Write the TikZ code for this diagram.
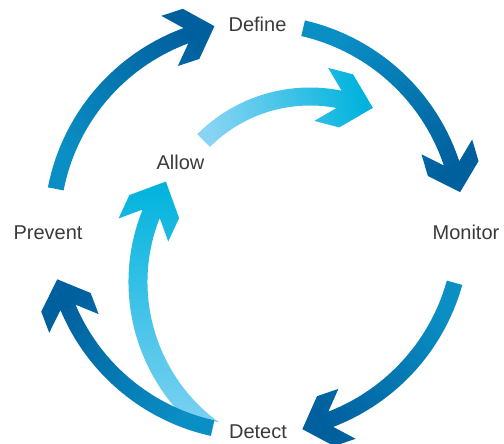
\documentclass[tikz,border=0pt]{standalone}
\usepackage{fontspec}
\setmainfont{Liberation Sans}
\definecolor{dtail}{HTML}{0A8FC5}
\definecolor{dhead}{HTML}{00609E}
\definecolor{ltail}{HTML}{88D4F4}
\definecolor{lhead}{HTML}{00B3DD}
\definecolor{txt}{HTML}{3A3A3A}
% #1 shading options, #2 cx, #3 cy, #4 R, #5 half width, #6 tail angle, #7 notch angle
\newcommand\cyarrow[7][]{%
  \shade[#1]
    ({#2+(#4+#5)*cos(#7)},{#3+(#4+#5)*sin(#7)}) arc[start angle=#7, end angle=#6, radius=#4+#5]
    -- ({#2+(#4-#5)*cos(#6)},{#3+(#4-#5)*sin(#6)}) arc[start angle=#6, end angle=#7, radius=#4-#5] -- cycle
    ({#2+#4*cos(#7)+\hd*sin(#7)},{#3+#4*sin(#7)-\hd*cos(#7)})
    -- ({#2+(#4+\hb)*cos(#7)+(\hd-\ha)*sin(#7)},{#3+(#4+\hb)*sin(#7)-(\hd-\ha)*cos(#7)})
    -- ({#2+(#4+\hb)*cos(#7)-\ha*sin(#7)},{#3+(#4+\hb)*sin(#7)+\ha*cos(#7)})
    -- ({#2+#4*cos(#7)},{#3+#4*sin(#7)})
    -- ({#2+(#4-\hb)*cos(#7)-\ha*sin(#7)},{#3+(#4-\hb)*sin(#7)+\ha*cos(#7)})
    -- ({#2+(#4-\hb)*cos(#7)+(\hd-\ha)*sin(#7)},{#3+(#4-\hb)*sin(#7)-(\hd-\ha)*cos(#7)})
    -- cycle;}
\begin{document}
\begin{tikzpicture}[x=1pt,y=1pt,
  lbl/.style={font=\fontsize{20}{24}\selectfont, text=txt, inner sep=0pt, anchor=base}]
\useasboundingbox (0,0) rectangle (504,444);
% light arrows (behind)
\def\hd{25.8}\def\ha{27.6}\def\hb{27.4}
\cyarrow[bottom color=ltail, top color=lhead, shading angle=-78]{310}{197}{150.5}{9}{135}{75.4}
\begin{scope}
  \clip (257,216) circle[radius=198];
  \cyarrow[bottom color=ltail, top color=lhead, shading angle=0]{321}{162}{183}{9.5}{240}{155.1}
\end{scope}
% outer cycle arrows
\def\hd{22.6}\def\ha{24.6}\def\hb{26.4}
\cyarrow[bottom color=dtail, top color=dhead, shading angle=-45.4]{257}{216}{205}{8}{169}{108.2}
\cyarrow[bottom color=dtail, top color=dhead, shading angle=-136.5]{257}{216}{205}{8}{77}{16.3}
\cyarrow[bottom color=dtail, top color=dhead, shading angle=133.7]{257}{216}{205}{8}{-15.5}{-71}
\cyarrow[bottom color=dtail, top color=dhead, shading angle=46.3]{257}{216}{205}{8}{-102.5}{-159.3}
% labels
\node[lbl] (define) at (257.5,412) {Define};
\node[lbl] (allow) at (180.5,274) {Allow};
\node[lbl] (prevent) at (48,204) {Prevent};
\node[lbl] (monitor) at (466,204) {Monitor};
\node[lbl] (detect) at (258,5) {Detect};
\end{tikzpicture}
\end{document}
